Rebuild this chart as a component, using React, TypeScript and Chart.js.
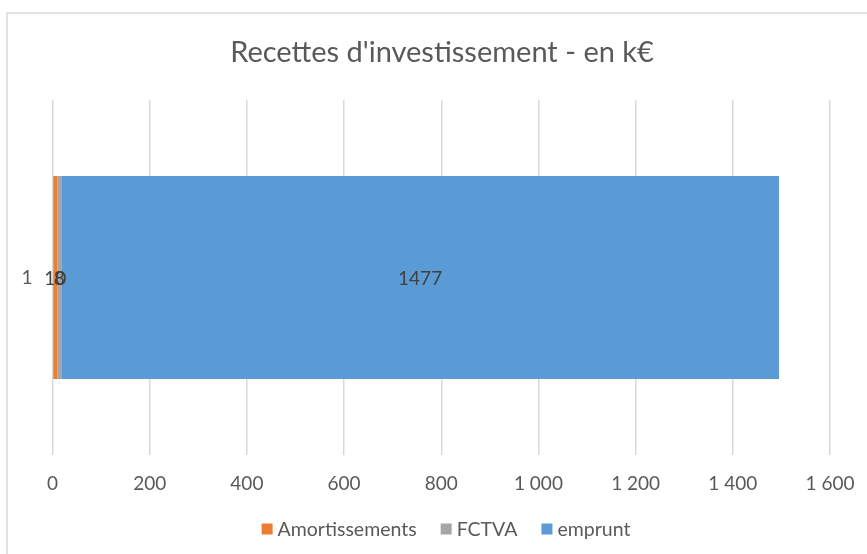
import React, { useEffect, useRef } from "react";
import { Chart, registerables } from "chart.js";

Chart.register(...registerables);

const title = "Recettes d'investissement - en k€";
const categories = ["1"];
const seriesNames = ["Amortissements", "FCTVA", "emprunt"];
const amortissements = [10];
const fctva = [8];
const emprunt = [1477];
const seriesColors = ["#ED7D31", "#A5A5A5", "#5B9BD5"];
const xMin = 0;
const xMax = 1600;
const xStep = 200;

const FONT = "Lato, 'Open Sans', sans-serif";

const fmt = (v: number) => {
  const s = Math.round(v).toString();
  return s.replace(/\B(?=(\d{3})+(?!\d))/g, " ");
};

const borderPlugin = {
  id: "outerBorder",
  beforeDraw(chart: any) {
    const ctx = chart.ctx;
    ctx.save();
    ctx.fillStyle = "#ffffff";
    ctx.fillRect(0, 0, chart.width, chart.height);
    ctx.strokeStyle = "#d9d9d9";
    ctx.lineWidth = 1.5;
    ctx.strokeRect(7, 13, chart.width + 50, chart.height + 50);
    ctx.restore();
  },
};

const titlePlugin = {
  id: "customTitle",
  afterDraw(chart: any) {
    const ctx = chart.ctx;
    ctx.save();
    ctx.font = `29px ${FONT}`;
    ctx.fillStyle = "#595959";
    ctx.textAlign = "center";
    ctx.textBaseline = "middle";
    ctx.fillText(title, 442, 53);
    ctx.restore();
  },
};

const dataLabelPlugin = {
  id: "dataLabels",
  afterDatasetsDraw(chart: any) {
    const ctx = chart.ctx;
    ctx.save();
    ctx.font = `19px ${FONT}`;
    ctx.fillStyle = "#404040";
    ctx.textAlign = "center";
    ctx.textBaseline = "middle";
    chart.data.datasets.forEach((ds: any, i: number) => {
      const meta = chart.getDatasetMeta(i);
      meta.data.forEach((el: any, j: number) => {
        const v = ds.data[j];
        const cx = (el.x + el.base) / 2;
        ctx.fillText(String(v), cx, el.y + 1);
      });
    });
    ctx.restore();
  },
};

const legendPlugin = {
  id: "customLegend",
  afterDraw(chart: any) {
    const ctx = chart.ctx;
    ctx.save();
    ctx.font = `19.5px ${FONT}`;
    ctx.textBaseline = "middle";
    ctx.textAlign = "left";
    const box = 11;
    const gapText = 5;
    const gapItem = 24;
    const items = chart.data.datasets.map((ds: any) => ({
      label: ds.label,
      color: ds.backgroundColor,
      w: ctx.measureText(ds.label).width,
    }));
    const total =
      items.reduce((a: number, it: any) => a + box + gapText + it.w, 0) +
      gapItem * (items.length - 1);
    let x = 446 - total / 2;
    const y = 529;
    items.forEach((it: any) => {
      ctx.fillStyle = it.color;
      ctx.fillRect(x, y - box / 2, box, box);
      x += box + gapText;
      ctx.fillStyle = "#595959";
      ctx.fillText(it.label, x, y + 1);
      x += it.w + gapItem;
    });
    ctx.restore();
  },
};

export default function App() {
  const ref = useRef<HTMLCanvasElement>(null);
  useEffect(() => {
    if (!ref.current) return;
    const values = [amortissements, fctva, emprunt];
    const chart = new Chart(ref.current, {
      type: "bar",
      data: {
        labels: categories,
        datasets: seriesNames.map((name, i) => ({
          label: name,
          data: values[i],
          backgroundColor: seriesColors[i],
          borderWidth: 0,
          categoryPercentage: 1,
          barPercentage: 0.572,
        })),
      },
      options: {
        indexAxis: "y",
        animation: false,
        responsive: false,
        maintainAspectRatio: false,
        layout: { padding: { left: 0, right: 0, top: 100, bottom: 59 } },
        plugins: {
          legend: { display: false },
          tooltip: { enabled: false },
          title: { display: false },
        },
        scales: {
          x: {
            stacked: true,
            min: xMin,
            max: xMax,
            ticks: {
              stepSize: xStep,
              color: "#595959",
              font: { family: FONT, size: 19 },
              padding: 17,
              callback: (v: any) => fmt(Number(v)),
              maxRotation: 0,
            },
            grid: { color: "#d9d9d9", lineWidth: 1.5, drawTicks: false },
            border: { display: false },
            afterFit: (s: any) => {
              s.height = 40;
              s.paddingLeft = 0;
              s.paddingRight = 37;
            },
          },
          y: {
            stacked: true,
            ticks: {
              color: "#595959",
              font: { family: FONT, size: 19 },
              padding: 20,
            },
            grid: { display: false, drawTicks: false },
            border: { display: false },
            afterFit: (s: any) => {
              s.width = 52.5;
            },
          },
        },
      },
      plugins: [borderPlugin, dataLabelPlugin, legendPlugin, titlePlugin],
    });
    return () => chart.destroy();
  }, []);
  return (
    <div style={{ position: "absolute", left: 0, top: 0, width: 867, height: 554 }}>
      <canvas ref={ref} width={867} height={554} style={{ width: 867, height: 554 }} />
    </div>
  );
}
